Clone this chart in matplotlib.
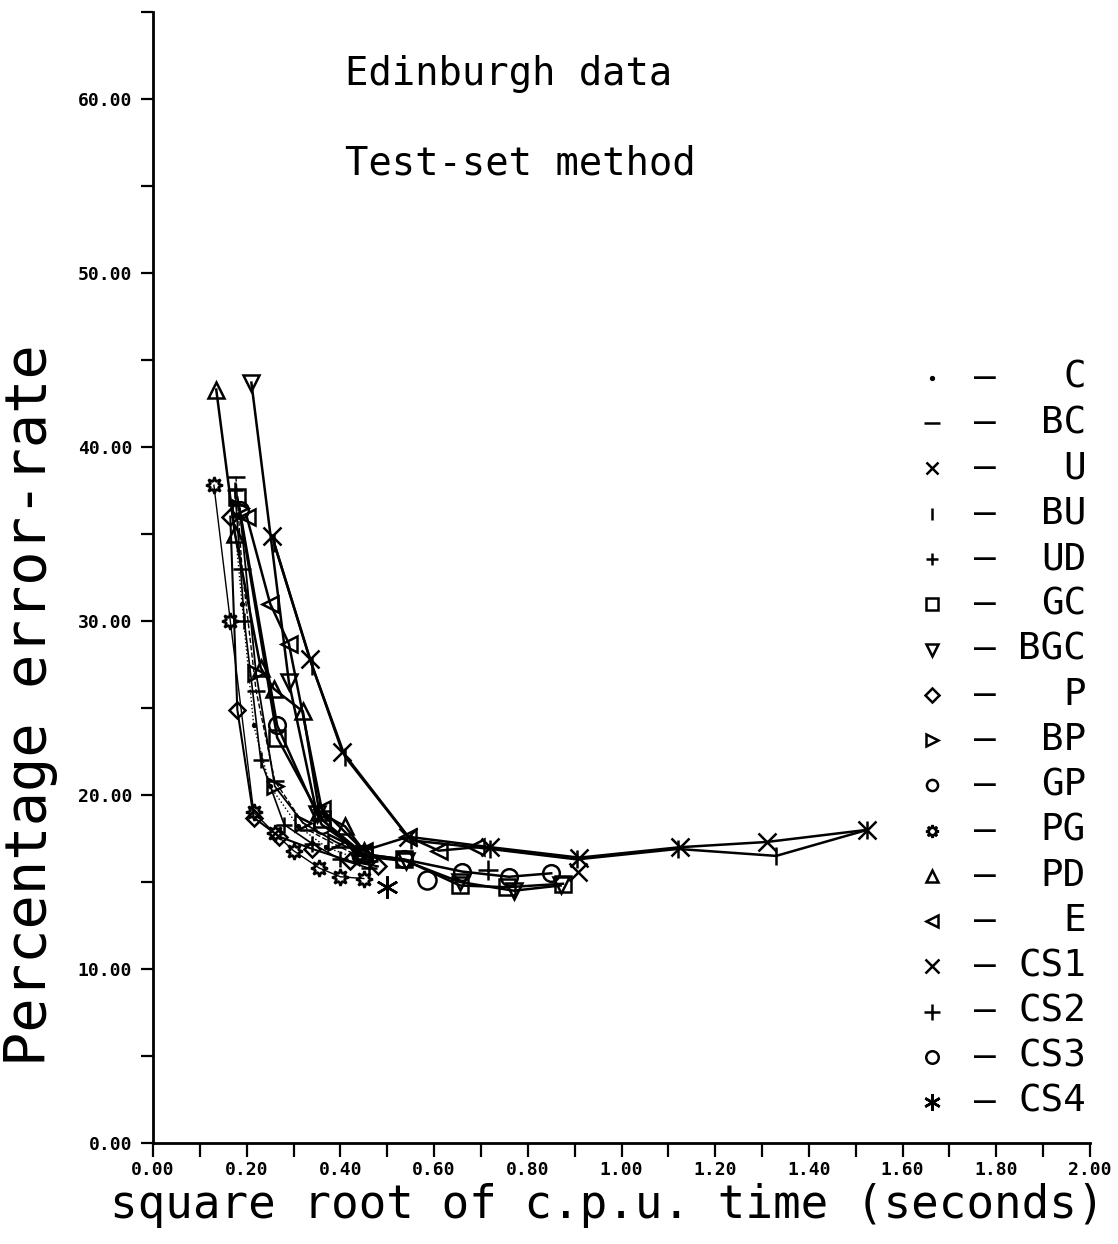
import matplotlib
matplotlib.use("Agg")
import matplotlib.pyplot as plt
from matplotlib.ticker import MultipleLocator

MONO = "DejaVu Sans Mono"

# --- data (x = sqrt cpu seconds, y = % error rate) ---
c_x = [0.17, 0.19, 0.215, 0.25, 0.31, 0.37, 0.43]
c_y = [36.8, 31.0, 24.0, 20.5, 18.2, 17.0, 16.4]
bc_x = [0.177, 0.19, 0.22, 0.26, 0.33, 0.40, 0.46]
bc_y = [38.3, 33.0, 26.0, 20.8, 18.0, 17.0, 16.2]
u_x = [0.254, 0.335, 0.404, 0.545, 0.72, 0.91, 1.125, 1.31, 1.525]
u_y = [34.9, 27.8, 22.5, 17.6, 17.0, 16.4, 17.0, 17.3, 18.0]
bu_x = [0.258, 0.34, 0.41, 0.55, 0.72, 0.905, 1.12, 1.33, 1.525]
bu_y = [34.5, 27.4, 22.2, 17.4, 16.9, 16.3, 16.9, 16.5, 18.0]
ud_x = [0.175, 0.195, 0.23, 0.28, 0.34, 0.40, 0.46]
ud_y = [37.5, 30.0, 22.0, 18.3, 17.2, 16.3, 15.8]
gc_x = [0.18, 0.265, 0.36, 0.45, 0.535, 0.655, 0.755, 0.875]
gc_y = [37.1, 23.3, 18.6, 16.6, 16.3, 14.8, 14.7, 14.9]
bgc_x = [0.21, 0.29, 0.35, 0.44, 0.54, 0.655, 0.77, 0.87]
bgc_y = [43.7, 26.5, 18.9, 16.5, 16.2, 15.0, 14.5, 14.8]
p_x = [0.165, 0.18, 0.215, 0.27, 0.34, 0.42, 0.48]
p_y = [36.0, 24.9, 18.7, 17.6, 16.9, 16.2, 15.9]
bp_x = [0.185, 0.22, 0.26, 0.32, 0.39, 0.45]
bp_y = [36.5, 27.0, 20.5, 18.4, 17.3, 16.6]
gp_x = [0.185, 0.265, 0.36, 0.45, 0.535, 0.66, 0.76, 0.85]
gp_y = [36.4, 24.0, 18.3, 16.6, 16.3, 15.6, 15.3, 15.5]
pg_x = [0.13, 0.165, 0.215, 0.26, 0.30, 0.355, 0.40, 0.45]
pg_y = [37.8, 30.0, 19.0, 17.8, 16.8, 15.8, 15.3, 15.2]
pd_x = [0.135, 0.175, 0.23, 0.258, 0.32, 0.355, 0.41, 0.45]
pd_y = [43.3, 35.0, 27.3, 26.1, 24.8, 19.0, 18.2, 16.8]
e_x = [0.20, 0.25, 0.29, 0.36, 0.45, 0.545, 0.61, 0.69]
e_y = [36.0, 31.0, 28.7, 19.2, 16.8, 17.6, 16.8, 17.0]
cs1_x, cs1_y = [0.907], [15.6]
cs2_x, cs2_y = [0.715], [15.7]
cs3_x, cs3_y = [0.585], [15.1]
cs4_x, cs4_y = [0.50], [14.7]

labels = ["C", "BC", "U", "BU", "UD", "GC", "BGC", "P", "BP", "GP", "PG",
          "PD", "E", "CS1", "CS2", "CS3", "CS4"]
series = [(c_x, c_y), (bc_x, bc_y), (u_x, u_y), (bu_x, bu_y), (ud_x, ud_y),
          (gc_x, gc_y), (bgc_x, bgc_y), (p_x, p_y), (bp_x, bp_y), (gp_x, gp_y),
          (pg_x, pg_y), (pd_x, pd_y), (e_x, e_y), (cs1_x, cs1_y),
          (cs2_x, cs2_y), (cs3_x, cs3_y), (cs4_x, cs4_y)]

# marker, plot marker size, legend marker size, line style, line width
styles = [
    (".", 4, 4, ":", 1.0),
    ("_", 13, 11, "--", 1.0),
    ("x", 13, 9, "-", 1.8),
    ("|", 13, 9, "-", 1.8),
    ("+", 12, 9, "-", 1.2),
    ("s", 11, 8, "-", 1.8),
    ("v", 12, 8, "-", 1.8),
    ("D", 8, 7, "-", 1.5),
    (">", 11, 8, "-", 1.3),
    ("o", 12, 8, "-", 1.8),
    ((8, 1, 0), 12, 9, "-", 1.0),
    ("^", 12, 8, "-", 1.8),
    ("<", 12, 8, "-", 1.8),
    ("x", 13, 10, "none", 0),
    ("+", 15, 11, "none", 0),
    ("o", 13, 9, "none", 0),
    ((6, 2, 0), 16, 12, "none", 0),
]

fig = plt.figure(figsize=(11.18, 12.44), dpi=100)
ax = fig.add_axes([153 / 1118, 1 - 1143 / 1244, (1090 - 153) / 1118, (1143 - 12) / 1244])

for (xs, ys), (mk, ms, _, ls, lw) in zip(series, styles):
    ax.plot(xs, ys, linestyle=ls, linewidth=lw, color="black", marker=mk,
            markersize=ms, markerfacecolor="none", markeredgecolor="black",
            markeredgewidth=1.8, clip_on=False)

ax.set_xlim(0, 2.0)
ax.set_ylim(0, 65)
for side in ("top", "right"):
    ax.spines[side].set_visible(False)
for side in ("left", "bottom"):
    ax.spines[side].set_linewidth(2.0)

ax.xaxis.set_major_locator(MultipleLocator(0.2))
ax.xaxis.set_minor_locator(MultipleLocator(0.1))
ax.yaxis.set_major_locator(MultipleLocator(10))
ax.yaxis.set_minor_locator(MultipleLocator(5))
ax.set_xticklabels([f"{v:.2f}" for v in ax.get_xticks()])
ax.set_yticklabels([f"{v:.2f}" for v in ax.get_yticks()])
ax.tick_params(axis="x", which="both", direction="out", length=10, width=1.6, pad=3)
ax.tick_params(axis="y", which="both", direction="out", length=9, width=1.6, pad=6)
for lab in ax.get_xticklabels() + ax.get_yticklabels():
    lab.set_fontfamily(MONO)
    lab.set_fontweight("bold")
    lab.set_fontsize(13)

ax.set_xlabel("square root of c.p.u. time (seconds)", family=MONO, fontsize=33, labelpad=2)
ax.xaxis.set_label_coords(0.485, -0.035, transform=ax.transAxes)
ax.xaxis.label.set_va("top")
ax.set_ylabel("Percentage error-rate", family=MONO, fontsize=41)
ax.yaxis.set_label_coords(-0.131, 0.387, transform=ax.transAxes)
ax.yaxis.label.set_va("center")
ax.yaxis.label.set_ha("center")

ax.text(0.205, 0.945, "Edinburgh data", transform=ax.transAxes, family=MONO,
        fontsize=28, va="center", ha="left")
ax.text(0.205, 0.866, "Test-set method", transform=ax.transAxes, family=MONO,
        fontsize=28, va="center", ha="left")

# hand-drawn style legend on the right
top_y = (1143 - 378) / 1131
step = 45.25 / 1131
sym_x = (932 - 153) / 937
dash_x = (985 - 153) / 937
lab_x = (1086 - 153) / 937
for i, (name, (mk, _, lms, _, _)) in enumerate(zip(labels, styles)):
    yy = top_y - i * step
    ax.plot([sym_x], [yy], transform=ax.transAxes, marker=mk, markersize=lms,
            markerfacecolor="none", markeredgecolor="black", markeredgewidth=1.8,
            linestyle="none", clip_on=False)
    ax.text(dash_x, yy, "\u2013", transform=ax.transAxes, family=MONO,
            fontsize=26, ha="center", va="center")
    ax.text(lab_x, yy, name, transform=ax.transAxes, family=MONO,
            fontsize=27, ha="right", va="center")

fig.savefig("out.png", dpi=100)
